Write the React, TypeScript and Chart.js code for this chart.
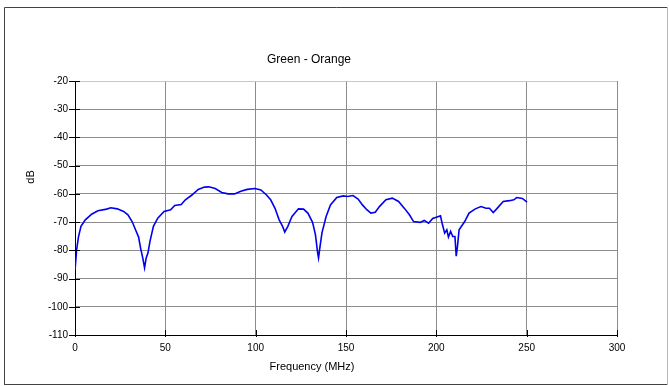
import React, { useEffect, useRef } from "react";
import { Chart, registerables } from "chart.js";

Chart.register(...registerables);

const freqMHz: number[] = [
  0, 0.9, 1.9, 3.3, 5.7, 9.2, 12.7, 17.5, 19.8, 23.4, 26.9, 29.3, 31.6, 33.5, 35.2, 36.3, 37.5, 38.5, 39.4, 40.4,
  41.5, 43.4, 45.8, 49.3, 52.9, 55.2, 58.8, 61.1, 64.7, 68.2, 71.7, 74.1, 77.6, 81.2, 84.7, 88.3, 91.8, 95.3, 99.6,
  102.9, 106, 108.3, 110.7, 113, 114.9, 116.1, 117.8, 120.1, 123.7, 126.5, 128.9, 131.5, 133.1, 134.3, 134.8, 135.5,
  136.7, 139, 141.4, 144.9, 148.5, 150.8, 153.9, 156.7, 159.1, 161.5, 163.8, 166.2, 168.5, 172.1, 175.6, 179.1,
  182.7, 185.1, 187.4, 191, 193.3, 195.7, 198, 200.4, 202.3, 203.2, 204.6, 205.8, 206.7, 207.9, 209.1, 210.3, 211,
  211.7, 212.6, 215.7, 218.1, 221.6, 224.7, 227.5, 229.4, 231.5, 233.4, 237, 240.5, 242.9, 244.5, 247.6, 250.2,
];

const greenOrangeDb: number[] = [
  -87.1, -79.8, -75.3, -71.5, -69.2, -67.2, -66, -65.4, -64.9, -65.3, -66.2, -67.4, -69.8, -72.7, -75.3, -79.2,
  -82.7, -86.2, -82.7, -80.9, -76.8, -71.5, -68.6, -66.2, -65.6, -64.1, -63.8, -62.1, -60.4, -58.4, -57.6, -57.5,
  -58.1, -59.5, -60, -60, -59.1, -58.4, -58.1, -58.6, -60.4, -62.1, -65.1, -69.2, -71.5, -73.5, -71.5, -68, -65.3,
  -65.4, -66.8, -70.1, -74.5, -80.9, -82.7, -79.2, -73.8, -68, -63.9, -61.3, -60.7, -60.9, -60.6, -61.8, -63.9,
  -65.6, -66.8, -66.5, -64.5, -62.1, -61.5, -62.7, -65.4, -67.4, -69.8, -70.1, -69.4, -70.4, -68.7, -68.2, -67.8,
  -70.4, -73.9, -72.7, -75.3, -73.3, -75.1, -75.1, -82.1, -78.6, -72.7, -69.8, -66.8, -65.3, -64.5, -65.1, -65.1,
  -66.6, -65.3, -62.7, -62.4, -62.1, -61.3, -61.6, -62.9,
];

const chartTitle = "Green - Orange";
const xAxisTitle = "Frequency (MHz)";
const yAxisTitle = "dB";
const xMin = 0, xMax = 300, xStep = 50;
const yMin = -110, yMax = -20, yStep = 10;

const FONT = "'Liberation Sans', Arial, sans-serif";

const decorPlugin = {
  id: "decor",
  afterDraw(chart: any) {
    const ctx = chart.ctx as CanvasRenderingContext2D;
    const { left, right, top, bottom } = chart.chartArea;
    const xs = chart.scales.x;
    const ys = chart.scales.y;
    ctx.save();
    // tick marks crossing the axes
    ctx.strokeStyle = "#000";
    ctx.lineWidth = 1;
    ctx.beginPath();
    for (let v = yMin; v <= yMax; v += yStep) {
      const py = Math.round(ys.getPixelForValue(v)) + 0.5;
      ctx.moveTo(left - 6, py);
      ctx.lineTo(left + 5, py);
    }
    for (let v = xMin; v <= xMax; v += xStep) {
      const px = Math.round(xs.getPixelForValue(v)) + 0.5;
      ctx.moveTo(px, bottom - 5);
      ctx.lineTo(px, bottom + 2);
    }
    ctx.stroke();
    // outer frame
    ctx.strokeStyle = "#444";
    ctx.beginPath();
    ctx.moveTo(4.5, 385);
    ctx.lineTo(4.5, 7.5);
    ctx.lineTo(668, 7.5);
    ctx.moveTo(4, 384.5);
    ctx.lineTo(668, 384.5);
    ctx.stroke();
    ctx.strokeStyle = "#bbb";
    ctx.beginPath();
    ctx.moveTo(667.5, 7);
    ctx.lineTo(667.5, 385);
    ctx.stroke();
    // texts
    ctx.fillStyle = "#000";
    ctx.textAlign = "center";
    ctx.textBaseline = "middle";
    ctx.font = `12px ${FONT}`;
    ctx.fillText(chartTitle, 309, 60);
    ctx.font = `11px ${FONT}`;
    ctx.fillText(xAxisTitle, 312, 367);
    ctx.translate(31, 177);
    ctx.rotate(-Math.PI / 2);
    ctx.fillText(yAxisTitle, 0, 0);
    ctx.restore();
  },
};

export default function App() {
  const ref = useRef<HTMLCanvasElement | null>(null);
  useEffect(() => {
    document.body.style.margin = "0";
    const canvas = ref.current;
    if (!canvas) return;
    const points = freqMHz.map((f, i) => ({ x: f, y: greenOrangeDb[i] }));
    const chart = new Chart(canvas, {
      type: "line",
      data: {
        datasets: [
          {
            data: points,
            borderColor: "#0000ee",
            borderWidth: 1.6,
            pointRadius: 0,
            tension: 0,
            fill: false,
          },
        ],
      },
      plugins: [decorPlugin],
      options: {
        animation: false,
        responsive: false,
        layout: { padding: { left: 35, right: 52, top: 81, bottom: 21 } },
        plugins: { legend: { display: false }, title: { display: false }, tooltip: { enabled: false } },
        scales: {
          x: {
            type: "linear",
            min: xMin,
            max: xMax,
            afterFit: (s: any) => {
              s.height = 30;
            },
            ticks: { stepSize: xStep, padding: 7, color: "#000", font: { family: FONT, size: 10 }, maxRotation: 0 },
            grid: { color: "#8c8c8c", drawTicks: false, lineWidth: 1 },
            border: { color: "#000", width: 1 },
          },
          y: {
            type: "linear",
            min: yMin,
            max: yMax,
            afterFit: (s: any) => {
              s.width = 40;
            },
            ticks: { stepSize: yStep, padding: 7, color: "#000", font: { family: FONT, size: 10 } },
            grid: {
              color: (c: any) => (c.tick && c.tick.value === yMax ? "#c8c8c8" : "#8c8c8c"),
              drawTicks: false,
              lineWidth: 1,
            },
            border: { color: "#000", width: 1 },
          },
        },
      },
    });
    return () => chart.destroy();
  }, []);
  return (
    <div style={{ width: 669, height: 386, background: "#fff" }}>
      <canvas ref={ref} width={669} height={386} style={{ display: "block" }} />
    </div>
  );
}
